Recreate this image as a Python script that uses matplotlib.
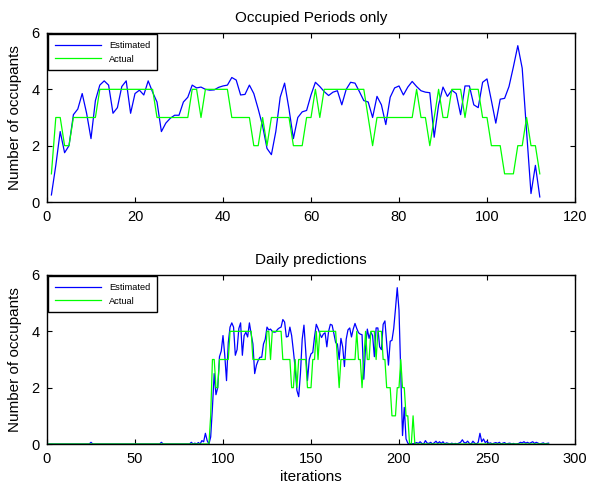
import numpy as np
import matplotlib.pyplot as plt

plt.rcParams['font.family'] = ['Liberation Sans', 'DejaVu Sans']

# occupied periods only: estimated vs actual occupants, iterations 1..112
occ_est = [0.25, 1.3, 2.5, 1.75, 2.0, 3.1, 3.3, 3.85, 3.15, 2.25,
           3.6, 4.15, 4.3, 4.15, 3.15, 3.35, 4.1, 4.3, 3.15, 3.85,
           3.97, 3.8, 4.3, 3.9, 3.55, 2.5, 2.8, 2.97, 3.08, 3.08,
           3.55, 3.72, 4.15, 4.05, 4.08, 4.0, 3.97, 3.98, 4.07, 4.12,
           4.15, 4.42, 4.33, 3.8, 3.82, 4.15, 3.85, 3.3, 2.7, 1.9,
           1.68, 2.5, 3.72, 4.22, 3.3, 2.25, 3.0, 3.2, 3.25, 3.8,
           4.25, 4.1, 3.92, 3.78, 3.9, 3.95, 3.45, 4.0, 4.25, 4.22,
           3.92, 3.6, 3.55, 3.0, 3.75, 3.45, 2.75, 3.72, 4.05, 4.12,
           3.8, 4.08, 4.28, 4.1, 3.95, 3.9, 3.88, 2.3, 3.45, 4.08,
           3.75, 3.97, 3.85, 3.1, 4.12, 4.12, 3.45, 3.35, 4.25, 4.37,
           3.6, 2.8, 3.65, 3.68, 4.1, 4.8, 5.55, 4.75, 2.5, 0.3,
           1.3, 0.18]
occ_act = [1, 3, 3, 2, 2, 3, 3, 3, 3, 3,
           3, 4, 4, 4, 4, 4, 4, 4, 4, 4,
           4, 4, 4, 4, 3, 3, 3, 3, 3, 3,
           3, 3, 4, 4, 3, 4, 4, 4, 4, 4,
           4, 3, 3, 3, 3, 3, 2, 2, 3, 2,
           3, 3, 3, 3, 3, 2, 2, 2, 3, 3,
           4, 3, 4, 4, 4, 4, 4, 4, 4, 4,
           4, 4, 3, 2, 3, 3, 3, 3, 3, 3,
           3, 3, 3, 4, 3, 3, 2, 3, 4, 3,
           3, 4, 4, 4, 3, 4, 4, 4, 3, 3,
           2, 2, 2, 1, 1, 1, 2, 2, 3, 2,
           2, 1]

# daily predictions: idle hours before (1..92) and after (205..285)
idle_before_est = ([0.0] * 24 + [0.06] + [0.0] * 39 + [0.06] + [0.0] * 16 +
                   [0.06, 0.0, 0.03, 0.0, 0.05, 0.0, 0.12, 0.08, 0.38, 0.12, 0.0])
idle_before_act = [0] * 92
idle_after_est = [0.03, 0.0, 0.02, 0.0, 0.03, 0.05, 0.02, 0.08, 0.02, 0.0,
                  0.12, 0.03, 0.02, 0.06, 0.0, 0.04, 0.1, 0.02, 0.08, 0.02,
                  0.08, 0.0, 0.04, 0.02, 0.0, 0.03, 0.0, 0.02, 0.0, 0.03,
                  0.06, 0.15, 0.05, 0.04, 0.1, 0.02, 0.0, 0.1, 0.03, 0.0,
                  0.06, 0.38, 0.08, 0.18, 0.05, 0.1, 0.02, 0.04, 0.0, 0.03,
                  0.05, 0.02, 0.06, 0.0, 0.03, 0.05, 0.0, 0.02, 0.03, 0.0,
                  0.02, 0.0, 0.0, 0.02, 0.06, 0.04, 0.08, 0.03, 0.06, 0.02,
                  0.05, 0.08, 0.02, 0.06, 0.03, 0.0, 0.02, 0.04, 0.0, 0.02, 0.03]
idle_after_act = [1, 0, 0, 1, 0] + [0] * 76

day_est = idle_before_est + occ_est + idle_after_est
day_act = idle_before_act + occ_act + idle_after_act

x_occ = np.arange(1, len(occ_est) + 1)
x_day = np.arange(1, len(day_est) + 1)

fig = plt.figure(figsize=(5.9, 4.88), dpi=100)
ax1 = fig.add_axes([47 / 590, 1 - 202 / 488, 528 / 590, 169 / 488])
ax2 = fig.add_axes([47 / 590, 1 - 444 / 488, 528 / 590, 169 / 488])


def style(ax, xmax, xstep, title):
    ax.set_xlim(0, xmax)
    ax.set_ylim(0, 6)
    ax.set_xticks(np.arange(0, xmax + 1, xstep))
    ax.set_yticks([0, 2, 4, 6])
    ax.tick_params(direction='in', top=True, right=True, length=3.5,
                   width=0.8, labelsize=10.5, pad=5.5)
    for s in ax.spines.values():
        s.set_linewidth(1.0)
    ax.set_title(title, fontsize=11, pad=8)
    ax.set_ylabel('Number of occupants', fontsize=11)
    ax.yaxis.set_label_coords(-0.048, 0.5)
    leg = ax.legend(loc='upper left', prop={'size': 6.7}, fancybox=False,
                    edgecolor='black', framealpha=1, borderaxespad=0.15,
                    handlelength=5.0, handletextpad=0.8, borderpad=0.7,
                    labelspacing=0.5)
    leg.get_frame().set_linewidth(1.0)


ax1.plot(x_occ, occ_est, color='blue', lw=0.9, label='Estimated')
ax1.plot(x_occ, occ_act, color='#00ff00', lw=0.9, label='Actual')
style(ax1, 120, 20, 'Occupied Periods only')

ax2.plot(x_day, day_est, color='blue', lw=0.9, label='Estimated')
ax2.plot(x_day, day_act, color='#00ff00', lw=0.9, label='Actual')
style(ax2, 300, 50, 'Daily predictions')
ax2.set_xlabel('iterations', fontsize=11, labelpad=3)

fig.savefig('out.png', dpi=100)
